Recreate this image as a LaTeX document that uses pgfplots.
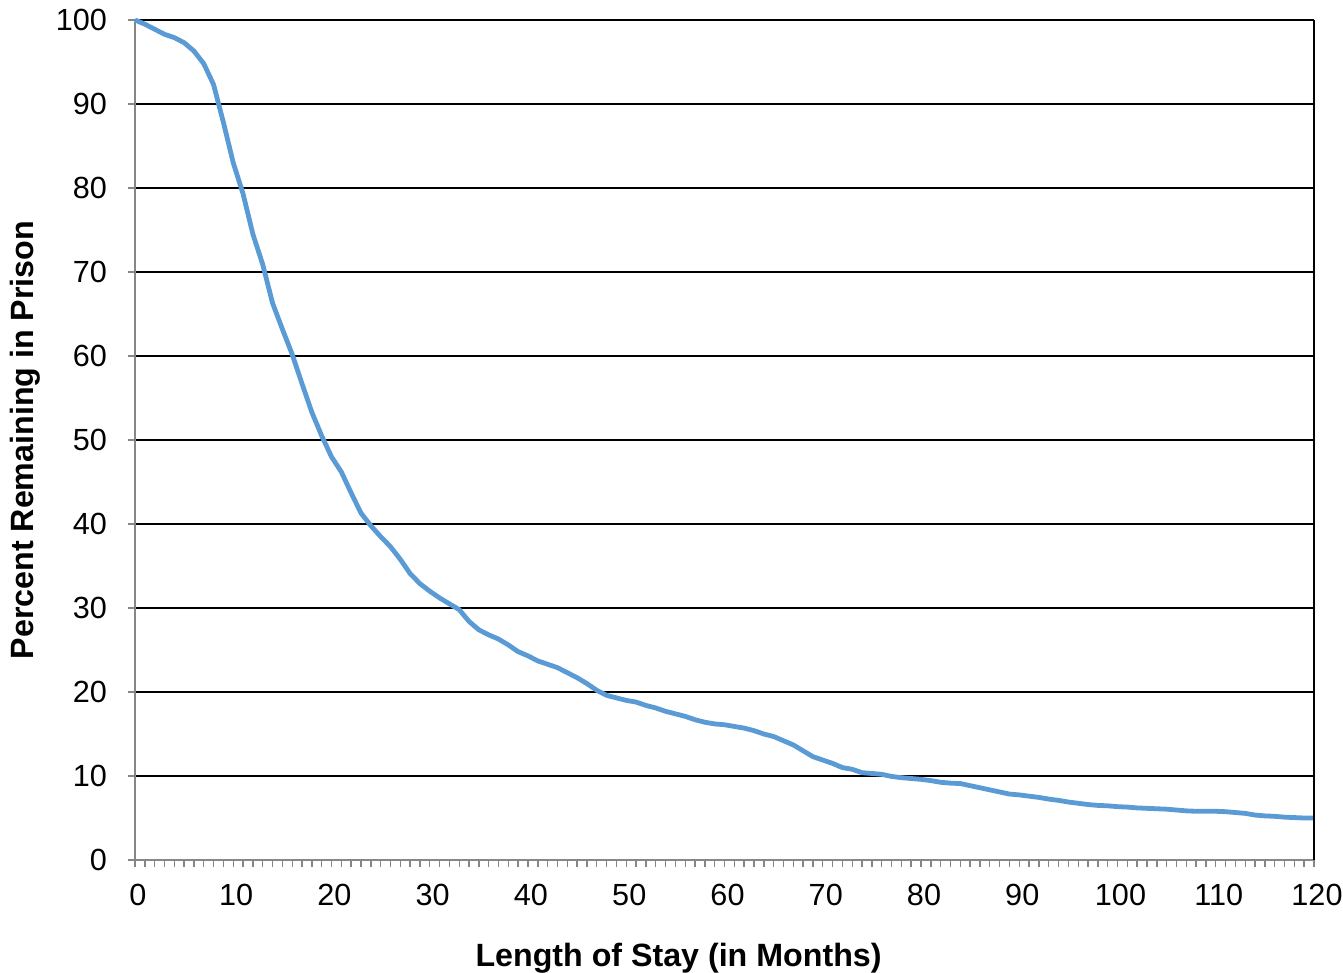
\documentclass[border=0pt]{standalone}
\usepackage{fontspec}
\setmainfont{Liberation Sans}
\usepackage{pgfplots}
\pgfplotsset{compat=1.18}
\definecolor{lineblue}{RGB}{91,155,213}
\definecolor{axgray}{RGB}{134,134,134}
\begin{document}
\begin{tikzpicture}
\useasboundingbox (-67.5pt,-56.5pt) rectangle (604pt,430pt);
\begin{axis}[
  scale only axis,
  width=589.5pt, height=420pt,
  xmin=0, xmax=120, ymin=0, ymax=100,
  axis lines=left,
  axis line style={-, draw=axgray, line width=1pt},
  xtick={0,10,...,120},
  ytick={0,10,...,100},
  minor x tick num=9,
  xtick pos=bottom, ytick pos=left,
  tick align=outside,
  major tick length=3.5pt, minor tick length=3.5pt,
  tick style={draw=axgray, line width=0.7pt},
  ymajorgrids,
  grid style={black, line width=0.75pt},
  /pgf/number format/assume math mode=true,
  ticklabel style={font=\fontsize{15.3}{18}\selectfont},
  xticklabel style={yshift=-5pt, xshift=1.5pt},
  yticklabel style={xshift=-7pt},
  xlabel={Length of Stay (in Months)},
  ylabel={Percent Remaining in Prison},
  label style={font=\fontsize{16.1}{19}\selectfont\bfseries},
  xlabel style={at={(axis description cs:0.461,-0.117)}, anchor=center},
  ylabel style={at={(axis description cs:-0.093,0.5)}, anchor=center},
  clip=false,
]
\addplot[lineblue, line width=2.4pt, line join=round] coordinates {
(0,100) (1,99.5) (2,98.9) (3,98.3) (4,97.9) (5,97.3) (6,96.3) (7,94.8) (8,92.3) (9,87.8)
(10,83.0) (11,79.3) (12,74.5) (13,70.9) (14,66.3) (15,63.2) (16,60.2) (17,56.7) (18,53.3) (19,50.5)
(20,48.0) (21,46.2) (22,43.7) (23,41.3) (24,39.8) (25,38.5) (26,37.3) (27,35.8) (28,34.1) (29,32.9)
(30,32.0) (31,31.2) (32,30.5) (33,29.8) (34,28.4) (35,27.4) (36,26.8) (37,26.3) (38,25.6) (39,24.8)
(40,24.3) (41,23.7) (42,23.3) (43,22.9) (44,22.3) (45,21.7) (46,21.0) (47,20.2) (48,19.6) (49,19.3)
(50,19.0) (51,18.8) (52,18.4) (53,18.1) (54,17.7) (55,17.4) (56,17.1) (57,16.7) (58,16.4) (59,16.2)
(60,16.1) (61,15.9) (62,15.7) (63,15.4) (64,15.0) (65,14.7) (66,14.2) (67,13.7) (68,13.0) (69,12.3)
(70,11.9) (71,11.5) (72,11.0) (73,10.8) (74,10.4) (75,10.3) (76,10.2) (77,9.95) (78,9.8) (79,9.7)
(80,9.6) (81,9.45) (82,9.25) (83,9.15) (84,9.1) (85,8.85) (86,8.6) (87,8.35) (88,8.1) (89,7.85)
(90,7.75) (91,7.6) (92,7.45) (93,7.25) (94,7.1) (95,6.9) (96,6.75) (97,6.6) (98,6.5) (99,6.45)
(100,6.35) (101,6.3) (102,6.2) (103,6.15) (104,6.1) (105,6.05) (106,5.95) (107,5.85) (108,5.8) (109,5.8)
(110,5.8) (111,5.75) (112,5.65) (113,5.55) (114,5.35) (115,5.25) (116,5.2) (117,5.1) (118,5.05) (119,5.0)
(120,5.0)
};
\draw[black, line width=1pt] (rel axis cs:1,0) -- (rel axis cs:1,1);
\end{axis}
\end{tikzpicture}
\end{document}
